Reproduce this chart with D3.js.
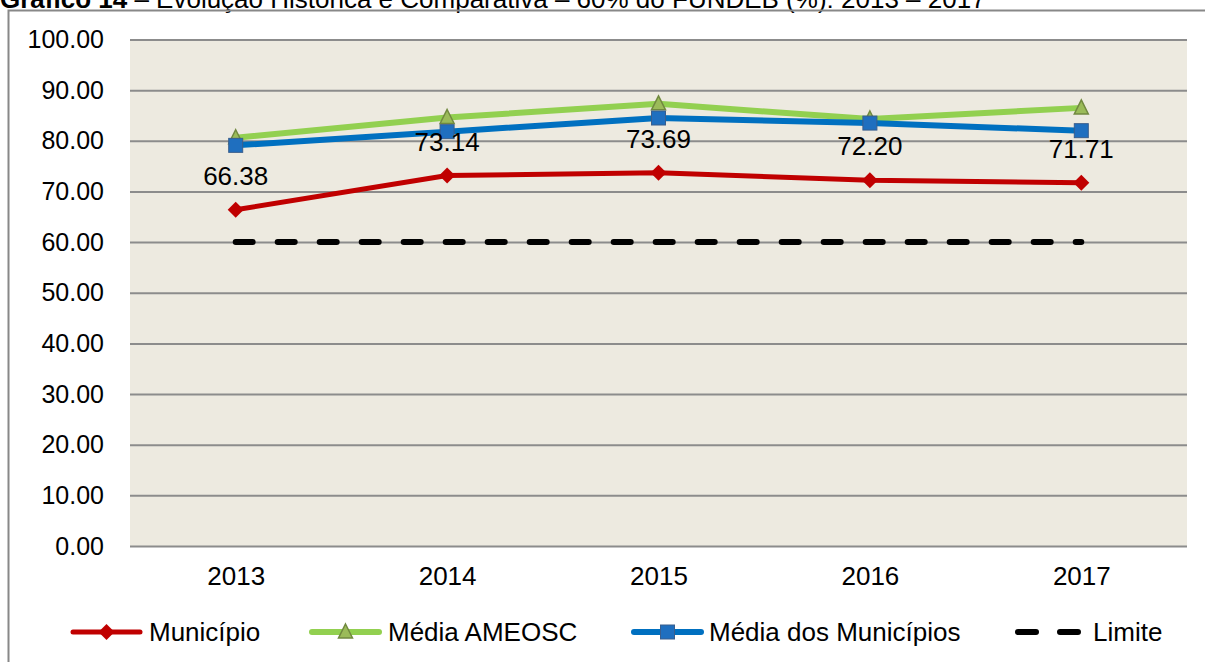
<!DOCTYPE html>
<html>
<head>
<meta charset="utf-8">
<script src="https://cdn.jsdelivr.net/npm/d3@7"></script>
<style>
  body { margin: 0; background: #fff; }
  svg { display: block; font-family: "Liberation Sans", Arial, sans-serif; }
</style>
</head>
<body>
<svg id="svg" width="1205" height="662"></svg>
<script>
// data
var years = ["2013", "2014", "2015", "2016", "2017"];
var municipio = [66.38, 73.14, 73.69, 72.20, 71.71];
var mediaAmeosc = [80.6, 84.6, 87.3, 84.3, 86.5];
var mediaMunicipios = [79.1, 81.8, 84.5, 83.5, 82.0];
var limite = [60, 60, 60, 60, 60];
var yTicks = [0, 10, 20, 30, 40, 50, 60, 70, 80, 90, 100];

var series = [
  {name: "Município", values: municipio, color: "#C00000", width: 5, marker: "diamond"},
  {name: "Média AMEOSC", values: mediaAmeosc, color: "#92D050", width: 6, marker: "triangle"},
  {name: "Média dos Municípios", values: mediaMunicipios, color: "#0070C0", width: 6, marker: "square"},
  {name: "Limite", values: limite, color: "#000", width: 6, marker: "dash"}
];

var svg = d3.select("#svg");
var plot = {left: 130, right: 1187, top: 39.5, bottom: 546};

var x = d3.scalePoint().domain(years).range([plot.left, plot.right]).padding(0.5);
var y = d3.scaleLinear().domain([0, 100]).range([plot.bottom, plot.top]);

// title (cut at the top of the picture, as in the original)
var title = svg.append("text").attr("x", 0).attr("y", 8).attr("font-size", 26).attr("fill", "#000");
title.append("tspan").attr("font-weight", "bold").text("Gráfico 14");
title.append("tspan").text(" – Evolução Histórica e Comparativa – 60% do FUNDEB (%): 2013 – 2017");

// outer frame
svg.append("path")
  .attr("d", "M8.5,662 V10.5 H1205")
  .attr("fill", "none")
  .attr("stroke", "#888")
  .attr("stroke-width", 2);

// plot background
svg.append("rect")
  .attr("x", plot.left).attr("y", plot.top)
  .attr("width", plot.right - plot.left).attr("height", plot.bottom - plot.top)
  .attr("fill", "#EDEAE0");

// gridlines + y axis
var yAxis = svg.append("g")
  .attr("transform", "translate(" + plot.left + ",0)")
  .call(d3.axisLeft(y).tickValues(yTicks).tickSize(-(plot.right - plot.left)).tickPadding(26)
    .tickFormat(function (d) { return d3.format(".2f")(d); }));
yAxis.select(".domain").remove();
yAxis.selectAll(".tick line").attr("stroke", "#8C8C8C").attr("stroke-width", 2);
yAxis.selectAll(".tick text").attr("font-size", 25).attr("fill", "#000")
  .attr("font-family", "Liberation Sans, Arial, sans-serif");

// x axis labels
var xAxis = svg.append("g")
  .attr("transform", "translate(0," + plot.bottom + ")")
  .call(d3.axisBottom(x).tickSize(0).tickPadding(21));
xAxis.select(".domain").remove();
xAxis.selectAll(".tick text").attr("font-size", 26).attr("fill", "#000")
  .attr("font-family", "Liberation Sans, Arial, sans-serif");

var line = d3.line()
  .x(function (d, i) { return x(years[i]); })
  .y(function (d) { return y(d); });

function drawMarker(g, kind, cx, cy) {
  if (kind == "diamond") {
    g.append("path")
      .attr("d", "M" + cx + "," + (cy - 8) + " L" + (cx + 8) + "," + cy + " L" + cx + "," + (cy + 8) + " L" + (cx - 8) + "," + cy + " Z")
      .attr("fill", "#C00000");
  } else if (kind == "triangle") {
    g.append("path")
      .attr("d", "M" + cx + "," + (cy - 8) + " L" + (cx + 7) + "," + (cy + 6) + " L" + (cx - 7) + "," + (cy + 6) + " Z")
      .attr("fill", "#9BBB59").attr("stroke", "#71893F").attr("stroke-width", 1.5);
  } else if (kind == "square") {
    g.append("rect")
      .attr("x", cx - 7).attr("y", cy - 7).attr("width", 14).attr("height", 14)
      .attr("fill", "#1F6FBF").attr("stroke", "#3A5E8C").attr("stroke-width", 1);
  }
}

series.forEach(function (s) {
  var g = svg.append("g");
  var p = g.append("path")
    .attr("d", line(s.values))
    .attr("fill", "none")
    .attr("stroke", s.color)
    .attr("stroke-width", s.width)
    .attr("stroke-linejoin", "round");
  if (s.marker == "dash") {
    p.attr("stroke-dasharray", "17,25").attr("stroke-linecap", "round");
  } else {
    s.values.forEach(function (v, i) {
      drawMarker(g, s.marker, x(years[i]), y(v));
    });
  }
});

// data labels for Município
svg.append("g").selectAll("text")
  .data(municipio)
  .enter()
  .append("text")
  .attr("x", function (d, i) { return x(years[i]); })
  .attr("y", function (d) { return y(d) - 25; })
  .attr("text-anchor", "middle")
  .attr("font-size", 26)
  .text(function (d) { return d3.format(".2f")(d); });

// legend
var legendItems = [
  {s: series[0], x1: 73, x2: 140, tx: 149},
  {s: series[1], x1: 312, x2: 379, tx: 388},
  {s: series[2], x1: 634, x2: 701, tx: 709},
  {s: series[3], x1: 1018, x2: 1078, tx: 1093}
];
var ly = 632;
var legend = svg.append("g");
legendItems.forEach(function (it) {
  var g = legend.append("g");
  var l = g.append("line")
    .attr("x1", it.x1).attr("x2", it.x2).attr("y1", ly).attr("y2", ly)
    .attr("stroke", it.s.color).attr("stroke-width", it.s.width)
    .attr("stroke-linecap", "round");
  if (it.s.marker == "dash") {
    l.attr("stroke-dasharray", "18,24");
  } else {
    drawMarker(g, it.s.marker, (it.x1 + it.x2) / 2, ly);
  }
  g.append("text")
    .attr("x", it.tx).attr("y", ly).attr("dy", "0.35em")
    .attr("font-size", 26)
    .text(it.s.name);
});
</script>
</body>
</html>
